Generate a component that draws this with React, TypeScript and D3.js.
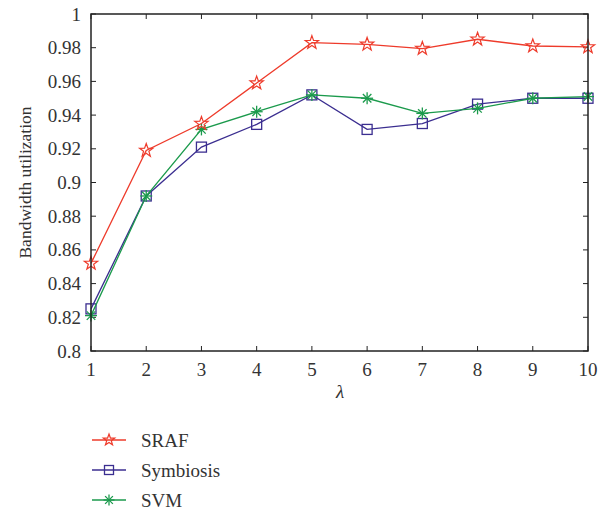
import React from "react";
import * as d3 from "d3";

const lambdas = [1, 2, 3, 4, 5, 6, 7, 8, 9, 10];
const sraf = [0.852, 0.919, 0.935, 0.959, 0.983, 0.982, 0.9795, 0.985, 0.981, 0.9805];
const symbiosis = [0.825, 0.892, 0.921, 0.9345, 0.952, 0.9315, 0.935, 0.9465, 0.95, 0.95];
const svm = [0.821, 0.892, 0.9315, 0.942, 0.952, 0.95, 0.941, 0.944, 0.95, 0.951];
const yTicks = [0.8, 0.82, 0.84, 0.86, 0.88, 0.9, 0.92, 0.94, 0.96, 0.98, 1];
const seriesNames = ["SRAF", "Symbiosis", "SVM"];

const W = 605, H = 509;
const L = 91, R = 588, T = 14, B = 351;
const FONT = "'Liberation Serif', 'Times New Roman', serif";

const x = d3.scaleLinear().domain([1, 10]).range([L, R]);
const y = d3.scaleLinear().domain([0.8, 1]).range([B, T]);

const colors = ["#ee3b2b", "#3b2e90", "#1b9a4c"];

function star(cx: number, cy: number, r: number) {
  const pts: string[] = [];
  const ri = r * 0.4;
  for (let i = 0; i < 10; i++) {
    const a = -Math.PI / 2 + (i * Math.PI) / 5;
    const rr = i % 2 === 0 ? r : ri;
    pts.push(`${cx + rr * Math.cos(a)},${cy + rr * Math.sin(a)}`);
  }
  return <polygon points={pts.join(" ")} fill="none" stroke={colors[0]} strokeWidth={1.2} />;
}
function square(cx: number, cy: number, s: number) {
  return <rect x={cx - s / 2} y={cy - s / 2} width={s} height={s} fill="none" stroke={colors[1]} strokeWidth={1.3} />;
}
function asterisk(cx: number, cy: number, r: number) {
  const lines = [];
  for (let i = 0; i < 4; i++) {
    const a = (i * Math.PI) / 4;
    lines.push(
      <line key={i} x1={cx - r * Math.cos(a)} y1={cy - r * Math.sin(a)} x2={cx + r * Math.cos(a)} y2={cy + r * Math.sin(a)} stroke={colors[2]} strokeWidth={1.3} />
    );
  }
  return <g>{lines}</g>;
}
const markers = [
  (cx: number, cy: number) => star(cx, cy, 7),
  (cx: number, cy: number) => square(cx, cy, 10),
  (cx: number, cy: number) => asterisk(cx, cy, 6),
];

export default function App() {
  const data = [sraf, symbiosis, svm];
  const line = d3.line<number>().x((_, i) => x(lambdas[i])).y((d) => y(d));
  const order = [1, 2, 0];
  return (
    <svg width={W} height={H} style={{ position: "absolute", left: 0, top: 0, background: "#fff" }}>
      <rect x={0} y={0} width={W} height={H} fill="#fff" />
      {lambdas.map((v) => (
        <g key={"xt" + v}>
          <line x1={x(v)} x2={x(v)} y1={B} y2={B - 5} stroke="#222" strokeWidth={1} />
          <line x1={x(v)} x2={x(v)} y1={T} y2={T + 5} stroke="#222" strokeWidth={1} />
          <text x={x(v)} y={376} textAnchor="middle" fontFamily={FONT} fontSize={19} fill="#333">{v}</text>
        </g>
      ))}
      {yTicks.map((v) => (
        <g key={"yt" + v}>
          <line x1={L} x2={L + 5} y1={y(v)} y2={y(v)} stroke="#222" strokeWidth={1} />
          <line x1={R} x2={R - 5} y1={y(v)} y2={y(v)} stroke="#222" strokeWidth={1} />
          <text x={81} y={y(v) + 6.5} textAnchor="end" fontFamily={FONT} fontSize={19} fill="#333">{String(v)}</text>
        </g>
      ))}
      {order.map((si) => (
        <g key={"s" + si}>
          <path d={line(data[si]) || ""} fill="none" stroke={colors[si]} strokeWidth={1.3} />
          {data[si].map((v, i) => (
            <g key={i}>{markers[si](x(lambdas[i]), y(v))}</g>
          ))}
        </g>
      ))}
      <rect x={L} y={T} width={R - L} height={B - T} fill="none" stroke="#222" strokeWidth={1.5} />
      <text x={340} y={398} textAnchor="middle" fontFamily={FONT} fontStyle="italic" fontSize={19} fill="#333">λ</text>
      <text transform={`translate(31,${(T + B) / 2}) rotate(-90)`} textAnchor="middle" fontFamily={FONT} fontSize={17.5} fill="#333">Bandwidth utilization</text>
      {seriesNames.map((n, i) => {
        const ly = 440 + i * 30;
        return (
          <g key={n}>
            <line x1={92} x2={126} y1={ly} y2={ly} stroke={colors[i]} strokeWidth={1.3} />
            {i === 0 ? star(109, ly, 6) : i === 1 ? square(109, ly, 9) : asterisk(109, ly, 5.5)}
            <text x={141} y={ly + 6.5} fontFamily={FONT} fontSize={19} fill="#333">{n}</text>
          </g>
        );
      })}
    </svg>
  );
}
